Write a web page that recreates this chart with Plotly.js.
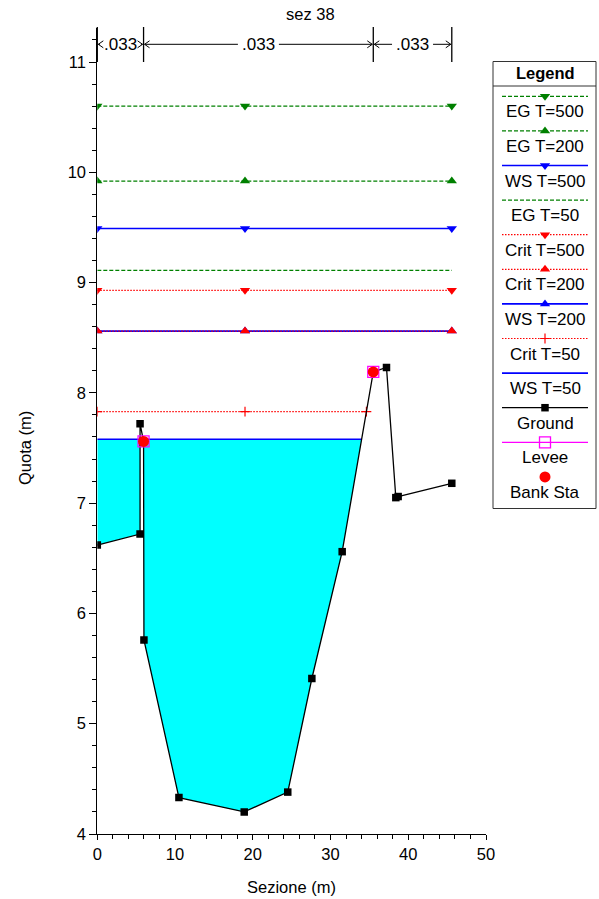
<!DOCTYPE html>
<html><head><meta charset="utf-8">
<script src="https://cdn.plot.ly/plotly-3.0.1.min.js"></script>
<style>html,body{margin:0;padding:0;background:#fff}</style>
</head><body><div id="chart" style="width:599px;height:899px"></div>
<script>
// ---------------- data ----------------
const groundX = [0, 5.5, 5.5, 5.95, 6.0, 10.5, 18.9, 24.5, 27.6, 31.5, 35.5, 37.2, 38.4, 38.7, 45.6];
const groundY = [6.62, 6.72, 7.72, 7.56, 5.76, 4.33, 4.20, 4.38, 5.41, 6.56, 8.19, 8.23, 7.05, 7.06, 7.18];
const leveeX = [5.95, 35.5];
const leveeY = [7.56, 8.19];
const bankX = [5.95, 35.5];
const bankY = [7.56, 8.19];
const profileNames = ['EG T=500','EG T=200','WS T=500','EG T=50','Crit T=500','Crit T=200','WS T=200','Crit T=50','WS T=50'];
const profileElev  = [10.60, 9.92, 9.49, 9.11, 8.93, 8.56, 8.56, 7.83, 7.58];
const midMarkerStation = 19;
const nStations = [0, 5.95, 35.5, 45.6];
const nValues = ['.033', '.033', '.033'];
const chartTitle = 'sez 38';
const xTitle = 'Sezione (m)';
const yTitle = 'Quota (m)';

// ---------------- styles ----------------
const GREEN = 'rgb(0,128,0)', BLUE = 'rgb(0,0,255)', RED = 'rgb(255,0,0)', MAG = 'rgb(255,0,255)';
const styleOf = {
  'EG':   {color: GREEN, dash: '4px,2px', width: 1.3},
  'WS':   {color: BLUE,  dash: 'solid',   width: 1.6},
  'Crit': {color: RED,   dash: '1.5px,1.5px', width: 1.2}
};
const symbolOf = ['triangle-down','triangle-up','triangle-down',null,'triangle-down','triangle-up','triangle-up','cross-thin',null];
const FONT = 'Liberation Sans, Arial, Helvetica, sans-serif';

const W = 599, H = 899, L0 = 97.3, R0 = 486, T0 = 28, B0 = 834;
const pxPerY = (834 - 62) / 7;
const yTop = 4 + (B0 - T0) / pxPerY;
const xp = x => L0 + x * (R0 - L0) / 50;

// ---------------- helpers ----------------
function thalweg() { let k = 0; groundY.forEach((v, i) => { if (v < groundY[k]) k = i; }); return k; }
function endStation(level) {
  for (let j = thalweg(); j < groundX.length - 1; j++) {
    const y1 = groundY[j], y2 = groundY[j + 1];
    if (y1 < level && y2 >= level) return groundX[j] + (level - y1) / (y2 - y1) * (groundX[j + 1] - groundX[j]);
  }
  return groundX[groundX.length - 1];
}
function fillPoly(L, xEnd) {
  const px = [], py = [];
  for (let i = 0; i < groundX.length; i++) {
    const x = groundX[i], y = groundY[i];
    if (x > xEnd) break;
    px.push(x); py.push(Math.min(y, L));
    if (i + 1 < groundX.length) {
      const x2 = groundX[i + 1], y2 = groundY[i + 1];
      if ((y - L) * (y2 - L) < 0) {
        const xi = x + (L - y) / (y2 - y) * (x2 - x);
        if (xi <= xEnd) { px.push(xi); py.push(L); }
      }
    }
  }
  px.push(xEnd); py.push(L); px.push(groundX[0]); py.push(L);
  return {px, py};
}
function markerSize(sym) { return sym === 'cross-thin' ? 7 : 9; }

const traces = [];
// water fill for lowest WS profile
const wsLowIdx = profileNames.indexOf('WS T=50');
const wsLow = profileElev[wsLowIdx];
const fp = fillPoly(wsLow, endStation(wsLow));
traces.push({x: fp.px, y: fp.py, mode: 'lines', fill: 'toself', fillcolor: 'rgb(0,255,255)',
  line: {width: 0, color: 'rgba(0,0,0,0)'}, hoverinfo: 'skip'});

// profile lines, drawn in reverse legend order
for (let i = profileNames.length - 1; i >= 0; i--) {
  const type = profileNames[i].split(' ')[0];
  const st = styleOf[type];
  const x0 = groundX[0], x1 = endStation(profileElev[i]);
  traces.push({x: [x0, x1], y: [profileElev[i], profileElev[i]], mode: 'lines',
    line: {color: st.color, dash: st.dash, width: st.width}, name: profileNames[i]});
  if (symbolOf[i]) {
    traces.push({x: [x0, midMarkerStation, x1], y: [profileElev[i], profileElev[i], profileElev[i]], mode: 'markers',
      marker: {symbol: symbolOf[i], size: markerSize(symbolOf[i]), color: st.color,
               line: {color: st.color, width: symbolOf[i] === 'cross-thin' ? 1.2 : 0}}});
  }
}
// ground
traces.push({x: groundX, y: groundY, mode: 'lines+markers', name: 'Ground',
  line: {color: '#000', width: 1.3}, marker: {symbol: 'square', size: 7.5, color: '#000'}});
// levee
traces.push({x: leveeX, y: leveeY, mode: 'markers', name: 'Levee',
  marker: {symbol: 'square-open', size: 11, color: MAG, line: {color: MAG, width: 1.3}}});
// bank stations
traces.push({x: bankX, y: bankY, mode: 'markers', name: 'Bank Sta',
  marker: {symbol: 'circle', size: 11, color: RED}});

// ---------------- legend (drawn manually) ----------------
const shapes = [], annotations = [];
const legNames = profileNames.concat(['Ground', 'Levee', 'Bank Sta']);
shapes.push({type: 'rect', xref: 'x2', yref: 'y2', x0: 493, x1: 596, y0: 61.5, y1: 508.5, line: {color: '#333', width: 1}});
shapes.push({type: 'line', xref: 'x2', yref: 'y2', x0: 493, x1: 596, y0: 86, y1: 86, line: {color: '#333', width: 1}});
annotations.push({xref: 'x2', yref: 'y2', x: 545, y: 73, text: '<b>Legend</b>', showarrow: false, font: {size: 16.5, family: FONT}});
legNames.forEach((nm, i) => {
  const ly = 96.3 + 34.6 * i, ty = ly + 15.5;
  annotations.push({xref: 'x2', yref: 'y2', x: 545, y: ty, text: nm, showarrow: false, font: {size: 17, family: FONT}});
  let col, dash = 'solid', wid = 1.3, sym = null, msize = 9, mline = 0, mcol;
  if (i < profileNames.length) {
    const st = styleOf[nm.split(' ')[0]];
    col = st.color; dash = st.dash; wid = st.width; sym = symbolOf[i]; mcol = col;
    if (sym) msize = markerSize(sym);
    if (sym === 'cross-thin') mline = 1.2;
  } else if (nm === 'Ground') { col = '#000'; sym = 'square'; msize = 7.5; mcol = '#000'; }
  else if (nm === 'Levee') { col = MAG; sym = 'square-open'; msize = 11; mcol = MAG; mline = 1.3; }
  else { col = null; sym = 'circle'; msize = 11; mcol = RED; }
  if (col) traces.push({x: [502, 588], y: [ly, ly], xaxis: 'x2', yaxis: 'y2', mode: 'lines',
    line: {color: col, dash: dash, width: wid}, hoverinfo: 'skip'});
  if (sym) traces.push({x: [545], y: [ly], xaxis: 'x2', yaxis: 'y2', mode: 'markers',
    marker: {symbol: sym, size: msize, color: mcol, line: {color: mcol, width: mline}}, hoverinfo: 'skip'});
});

// ---------------- Manning n bars ----------------
const nY = 44.3, tw = 33;
nStations.forEach(s => {
  const X = xp(s);
  shapes.push({type: 'line', xref: 'x2', yref: 'y2', x0: X, x1: X, y0: 27, y1: 62, line: {color: '#000', width: 1.3}});
});
for (let k = 0; k < nValues.length; k++) {
  const xa = xp(nStations[k]), xb = xp(nStations[k + 1]), tc = (xa + xb) / 2;
  const segs = [[xa + 1, tc - tw / 2 - 4], [tc + tw / 2 + 4, xb - 1]];
  segs.forEach(s => { if (s[1] > s[0]) shapes.push({type: 'line', xref: 'x2', yref: 'y2', x0: s[0], x1: s[1], y0: nY, y1: nY, line: {color: '#000', width: 1}}); });
  shapes.push({type: 'path', xref: 'x2', yref: 'y2', path: `M${xa + 6},${nY - 3.5} L${xa + 1},${nY} L${xa + 6},${nY + 3.5}`, line: {color: '#000', width: 1}});
  shapes.push({type: 'path', xref: 'x2', yref: 'y2', path: `M${xb - 6},${nY - 3.5} L${xb - 1},${nY} L${xb - 6},${nY + 3.5}`, line: {color: '#000', width: 1}});
  annotations.push({xref: 'x2', yref: 'y2', x: tc, y: nY, text: nValues[k], showarrow: false, font: {size: 17, family: FONT}});
}

// titles
annotations.push({xref: 'x2', yref: 'y2', x: 310, y: 14, text: chartTitle, showarrow: false, font: {size: 16.5, family: FONT}});
annotations.push({xref: 'x2', yref: 'y2', x: 291, y: 886.5, text: xTitle, showarrow: false, font: {size: 16.5, family: FONT}});
annotations.push({xref: 'x2', yref: 'y2', x: 25, y: 448, text: yTitle, showarrow: false, textangle: -90, font: {size: 16.5, family: FONT}});

const layout = {
  width: W, height: H, margin: {l: 0, r: 0, t: 0, b: 0},
  paper_bgcolor: '#fff', plot_bgcolor: 'rgba(0,0,0,0)', showlegend: false,
  font: {family: FONT, size: 16, color: '#000'},
  xaxis: {domain: [L0 / W, R0 / W], range: [0, 50], dtick: 10, tick0: 0, ticks: 'outside', ticklen: 5, tickwidth: 1,
    tickcolor: '#000', showline: true, linecolor: '#000', linewidth: 1, showgrid: false, zeroline: false,
    minor: {dtick: 2, ticks: 'outside', ticklen: 4, tickcolor: '#000', showgrid: false},
    tickfont: {size: 16.5, family: FONT}, anchor: 'y', automargin: false, fixedrange: true},
  yaxis: {domain: [1 - B0 / H, 1 - T0 / H], range: [4, yTop], dtick: 1, tick0: 0, ticks: 'outside', ticklen: 7, tickwidth: 1,
    tickcolor: '#000', showline: true, linecolor: '#000', linewidth: 1, showgrid: false, zeroline: false,
    minor: {dtick: 0.2, ticks: 'outside', ticklen: 4, tickcolor: '#000', showgrid: false},
    tickfont: {size: 16.5, family: FONT}, anchor: 'x', automargin: false, fixedrange: true},
  xaxis2: {domain: [0, 1], range: [0, W], visible: false, anchor: 'y2', fixedrange: true},
  yaxis2: {domain: [0, 1], range: [H, 0], visible: false, anchor: 'x2', fixedrange: true},
  shapes: shapes, annotations: annotations
};
Plotly.newPlot('chart', traces, layout, {displayModeBar: false, staticPlot: true});
</script></body></html>
